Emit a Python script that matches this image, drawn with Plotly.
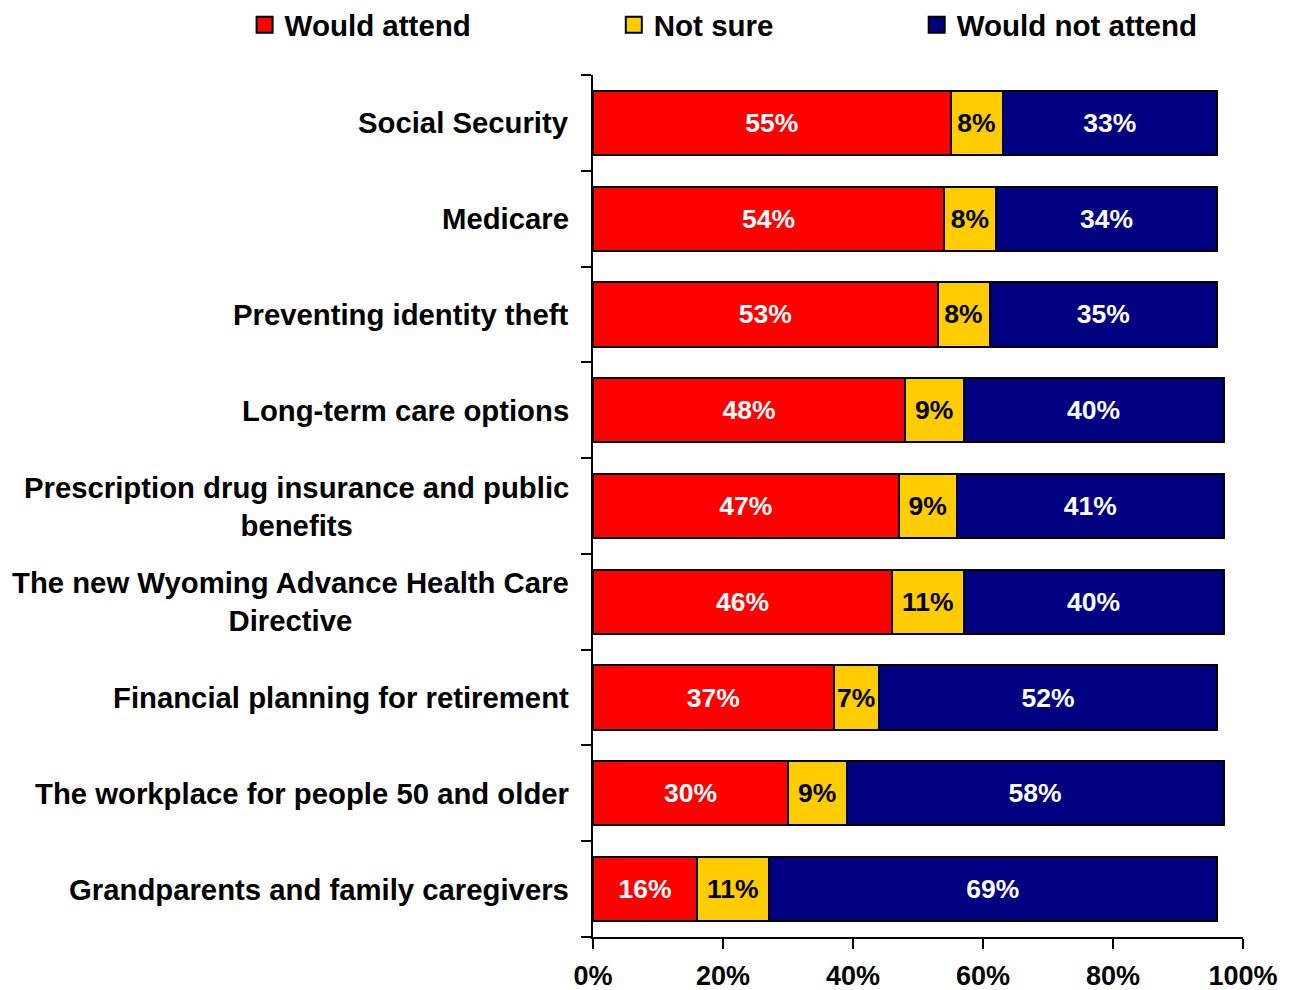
import plotly.graph_objects as go

categories = [
    "Social Security",
    "Medicare",
    "Preventing identity theft",
    "Long-term care options",
    "Prescription drug insurance and public<br>benefits",
    "The new Wyoming Advance Health Care<br>Directive",
    "Financial planning for retirement",
    "The workplace for people 50 and older",
    "Grandparents and family caregivers",
]
would_attend = [55, 54, 53, 48, 47, 46, 37, 30, 16]
not_sure = [8, 8, 8, 9, 9, 11, 7, 9, 11]
would_not_attend = [33, 34, 35, 40, 41, 40, 52, 58, 69]
x_ticks = [0, 20, 40, 60, 80, 100]

FONT = "Arial, Liberation Sans, sans-serif"
ypos = list(range(len(categories)))

series = [
    ("Would attend", would_attend, "#FF0000", "white", "legend"),
    ("Not sure", not_sure, "#FFCC00", "black", "legend2"),
    ("Would not attend", would_not_attend, "#000080", "white", "legend3"),
]

fig = go.Figure()
for name, vals, color, tcolor, leg in series:
    fig.add_trace(go.Bar(
        name=name, y=ypos, x=vals, orientation="h", width=0.67,
        marker=dict(color=color, line=dict(color="black", width=2)),
        text=[f"{v}%" for v in vals], textposition="inside",
        insidetextanchor="middle", constraintext="none",
        textfont=dict(family=FONT, size=26.5, color=tcolor, weight="bold"),
        showlegend=False, hoverinfo="skip",
    ))
for name, vals, color, tcolor, leg in series:
    fig.add_trace(go.Scatter(
        name=name, x=[None], y=[None], mode="markers",
        marker=dict(symbol="square", size=19, color=color,
                    line=dict(color="black", width=2)),
        legend=leg, showlegend=True, hoverinfo="skip",
    ))

annotations = []
for i, c in enumerate(categories):
    annotations.append(dict(
        text=c, xref="paper", yref="y", x=0, y=i, xanchor="right",
        yanchor="middle", xshift=-22, align="center", showarrow=False,
        font=dict(family=FONT, size=29.3, color="black", weight="bold"),
    ))

legfont = dict(family=FONT, size=29.5, color="black", weight="bold")
def leg(x):
    return dict(orientation="h", x=x, xanchor="left", y=1.058, yanchor="middle",
                font=legfont, bgcolor="rgba(0,0,0,0)", borderwidth=0)

fig.update_layout(
    width=1290, height=990,
    margin=dict(l=585, r=55, t=67, b=61, autoexpand=False),
    paper_bgcolor="white", plot_bgcolor="white",
    barmode="stack", bargap=0.33,
    showlegend=True,
    legend=leg(-0.536), legend2=leg(0.032), legend3=leg(0.498),
    annotations=annotations,
    xaxis=dict(
        range=[0, 100], tickvals=x_ticks, ticktext=[f"{v}%" for v in x_ticks],
        ticks="outside", ticklen=10, tickwidth=2, tickcolor="black",
        showline=True, linecolor="black", linewidth=2, showgrid=False,
        zeroline=False, ticklabelstandoff=4,
        tickfont=dict(family=FONT, size=27, color="black", weight="bold"),
    ),
    yaxis=dict(
        range=[8.5, -0.5], tickvals=[i - 0.5 for i in range(len(categories) + 1)],
        ticktext=[""] * (len(categories) + 1),
        ticks="outside", ticklen=10, tickwidth=2, tickcolor="black",
        showline=True, linecolor="black", linewidth=2, showgrid=False,
        zeroline=False,
    ),
)

fig.write_html("out.html")
